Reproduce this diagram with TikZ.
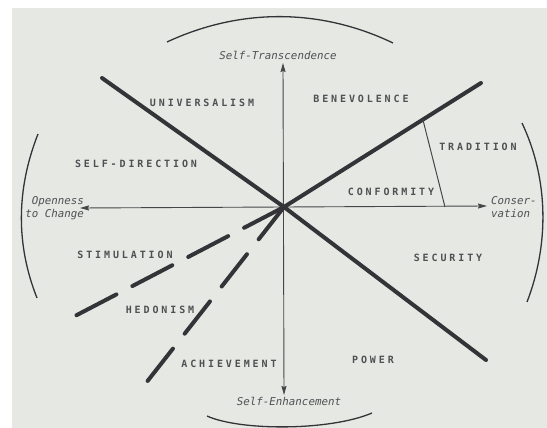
\documentclass[tikz,border=0pt]{standalone}
\usepackage{fontspec}
\usetikzlibrary{arrows.meta,calc}
\newfontfamily\capsfont{DejaVu Sans Mono}[LetterSpace=29]
\newfontfamily\axfont{DejaVu Sans Mono}
\definecolor{pagebg}{RGB}{229,232,227}
\definecolor{ink}{RGB}{52,52,56}
\definecolor{thinink}{RGB}{70,70,72}
\definecolor{txt}{RGB}{80,80,84}
\begin{document}
\begin{tikzpicture}[x=1pt,y=-1pt,
  thickln/.style={line width=4pt, draw=ink, line cap=round},
  dashln/.style={line width=4pt, draw=ink, line cap=round},
  axisln/.style={line width=0.9pt, draw=thinink, {Stealth[length=9pt,width=5pt,inset=1pt]}-{Stealth[length=9pt,width=5pt,inset=1pt]}},
  thinln/.style={line width=1pt, draw=thinink},
  arcln/.style={line width=1.3pt, draw=ink},
  valuelbl/.style={inner sep=0pt, text=txt, font=\capsfont\bfseries\fontsize{10}{12}\selectfont},
  axislbl/.style={inner sep=0pt, text=txt, font=\axfont\itshape\fontsize{10.8}{13}\selectfont}]
\useasboundingbox (0,0) rectangle (547,428);
\fill[white] (0,0) rectangle (547,428);
\fill[pagebg] (12,8) rectangle (547,428);

% key points
\coordinate (O) at (284,207);
\coordinate (ul) at (102,78);
\coordinate (lr) at (486,360);
\coordinate (ur) at (481,83);
\coordinate (d1) at (75,316);
\coordinate (d2) at (146,383);
\coordinate (tn) at (283,63);
\coordinate (bt) at (284,395);
\coordinate (lt) at (80,208);
\coordinate (rt) at (487,206);
\coordinate (tr1) at ($(O)!0.705!(ur)$);
\coordinate (tr2) at (445,207);

% outer arcs
\draw[arcln] (167,42) .. controls (240,8) and (320,8) .. (393,43);
\draw[arcln] (207,416) .. controls (240,431) and (330,431) .. (372,413);
\draw[arcln] (38,134) .. controls (16,190) and (16,245) .. (37,298);
\draw[arcln] (522,123) .. controls (549,180) and (549,245) .. (527,302);

% axes
\draw[axisln] (bt) -- (tn);
\draw[axisln] (lt) -- (rt);

% thick boundary lines
\draw[thickln] (ul) -- (O) -- (lr);
\draw[thickln] (O) -- (ur);
\draw[dashln, dash pattern=on 45pt off 18pt] (O) -- (d1);
\draw[dashln, dash pattern=on 41pt off 19pt] (O) -- (d2);
\draw[thinln] (tr1) -- (tr2);

% axis labels
\node[axislbl] (st) at (278,55) {Self-Transcendence};
\node[axislbl] (se) at (289,401) {Self-Enhancement};
\node[axislbl, align=right, anchor=east] (oc) at (84,208) {Openness\\to Change};
\node[axislbl, align=left, anchor=west] (cv) at (491,207) {Conser-\\vation};

% value labels
\node[valuelbl] (univ) at (202,103) {UNIVERSALISM};
\node[valuelbl] (bene) at (361,99) {BENEVOLENCE};
\node[valuelbl] (sdir) at (136,164) {SELF-DIRECTION};
\node[valuelbl] (trad) at (478,147) {TRADITION};
\node[valuelbl] (conf) at (391,192) {CONFORMITY};
\node[valuelbl] (stim) at (125,255) {STIMULATION};
\node[valuelbl] (hedo) at (160,310) {HEDONISM};
\node[valuelbl] (achi) at (229,364) {ACHIEVEMENT};
\node[valuelbl] (powr) at (373,360) {POWER};
\node[valuelbl] (secu) at (448,258) {SECURITY};
\end{tikzpicture}
\end{document}
